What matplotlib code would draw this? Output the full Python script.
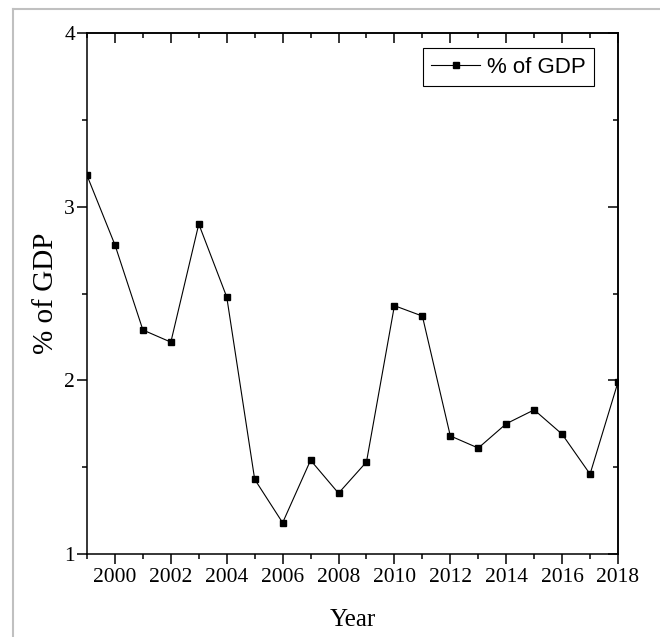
import matplotlib
matplotlib.use("Agg")
import matplotlib.pyplot as plt
from matplotlib.lines import Line2D
from matplotlib.ticker import MultipleLocator

years = [1999, 2000, 2001, 2002, 2003, 2004, 2005, 2006, 2007, 2008,
         2009, 2010, 2011, 2012, 2013, 2014, 2015, 2016, 2017, 2018]
gdp_share = [3.18, 2.78, 2.29, 2.22, 2.90, 2.48, 1.43, 1.18, 1.54, 1.35,
             1.53, 2.43, 2.37, 1.68, 1.61, 1.75, 1.83, 1.69, 1.46, 1.99]
xticks = [2000, 2002, 2004, 2006, 2008, 2010, 2012, 2014, 2016, 2018]
yticks = [1, 2, 3, 4]

serif = "Liberation Serif"

fig = plt.figure(figsize=(6.6, 6.37), dpi=100)
ax = fig.add_axes([87 / 660, 1 - 554 / 637, 531 / 660, 521 / 637])

ax.plot(years, gdp_share, color="black", lw=0.8, marker="s", ms=4.5,
        mfc="black", mec="black", label="% of GDP")

ax.set_xlim(1999, 2018)
ax.set_ylim(1, 4)
ax.set_xticks(xticks)
ax.set_yticks(yticks)
ax.xaxis.set_minor_locator(MultipleLocator(1))
ax.yaxis.set_minor_locator(MultipleLocator(0.5))

for s in ax.spines.values():
    s.set_linewidth(1.1)

ax.tick_params(which="both", direction="out", width=1.1, top=False, right=False)
ax.tick_params(which="major", length=7.2, pad=3)
ax.tick_params(which="minor", length=3.6)
ax.tick_params(axis="y", which="major", pad=1.5)
# inward ticks on the top and right edges
sec_x = ax.secondary_xaxis("top")
sec_x.set_xticks(xticks)
sec_x.xaxis.set_minor_locator(MultipleLocator(1))
sec_x.tick_params(which="both", direction="in", width=1.1, labeltop=False)
sec_x.tick_params(which="major", length=7.2)
sec_x.tick_params(which="minor", length=3.6)
sec_x.spines["top"].set_linewidth(1.1)
sec_y = ax.secondary_yaxis("right")
sec_y.set_yticks(yticks)
sec_y.yaxis.set_minor_locator(MultipleLocator(0.5))
sec_y.tick_params(which="both", direction="in", width=1.1, labelright=False)
sec_y.tick_params(which="major", length=7.2)
sec_y.tick_params(which="minor", length=3.6)
sec_y.spines["right"].set_linewidth(1.1)

for lab in ax.get_xticklabels() + ax.get_yticklabels():
    lab.set_fontfamily(serif)
    lab.set_fontsize(15.5)

ax.set_xlabel("Year", fontfamily=serif, fontsize=18, labelpad=16)
ax.set_ylabel("% of GDP", fontfamily=serif, fontsize=21, labelpad=4)

leg = ax.legend(loc="upper right", bbox_to_anchor=(0.955, 0.971),
                borderaxespad=0, prop={"family": "Liberation Sans", "size": 16},
                fancybox=False, framealpha=1, edgecolor="black",
                handlelength=2.2, handletextpad=0.3, borderpad=0.38)
leg.get_frame().set_linewidth(0.8)

# light grey frame lines of the screenshot
fig.add_artist(Line2D([13 / 660, 1], [1 - 9 / 637, 1 - 9 / 637],
                      color="#c0c0c0", lw=1.5, transform=fig.transFigure))
fig.add_artist(Line2D([13 / 660, 13 / 660], [0, 1 - 9 / 637],
                      color="#c0c0c0", lw=1.5, transform=fig.transFigure))

fig.savefig("out.png", dpi=100)
